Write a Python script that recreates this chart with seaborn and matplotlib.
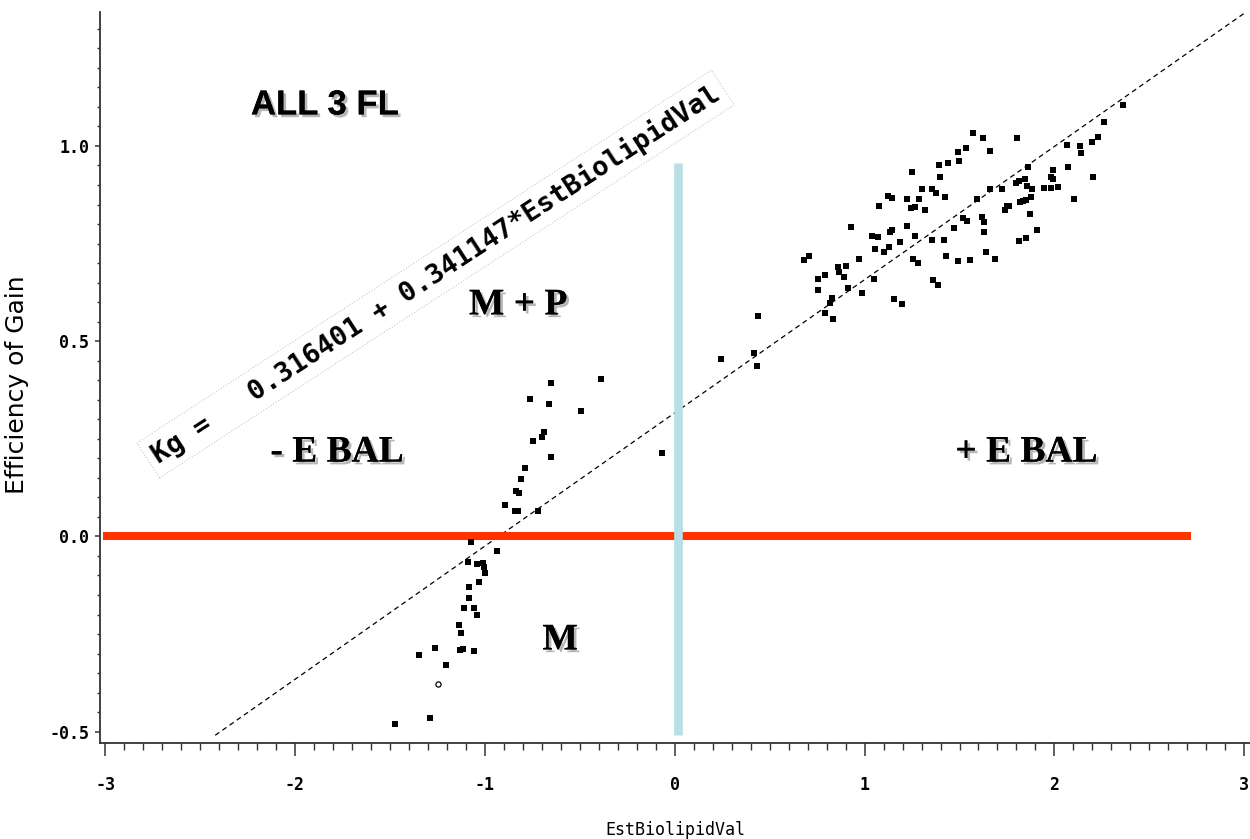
import numpy as np
import pandas as pd
import matplotlib
matplotlib.use("Agg")
import matplotlib.pyplot as plt
import matplotlib.patheffects as pe
from matplotlib.ticker import MultipleLocator, FormatStrFormatter
import seaborn as sns

# Observations: estimated biolipid value vs efficiency of gain
est_biolipid_neg = [
    -0.649, -0.387, -0.762, -0.663, -0.492, -0.745, -0.701, -0.689, -0.649, -0.067,
    -0.789, -0.812, -0.836, -0.820, -0.893, -0.841, -0.827, -0.719, -1.072, -0.938,
    -1.091, -1.039, -1.011, -1.002, -0.998, -1.030, -1.082, -1.082, -1.112, -1.055,
    -1.039, -1.138, -1.124, -1.261, -1.348, -1.130, -1.117, -1.056, -1.203, -1.291,
    -1.474,
]
eff_gain_neg = [
    0.394, 0.402, 0.352, 0.338, 0.322, 0.245, 0.255, 0.268, 0.204, 0.214,
    0.174, 0.148, 0.117, 0.110, 0.080, 0.066, 0.065, 0.066, -0.014, -0.037,
    -0.065, -0.071, -0.067, -0.078, -0.093, -0.116, -0.129, -0.157, -0.184, -0.184,
    -0.201, -0.227, -0.247, -0.285, -0.304, -0.291, -0.287, -0.294, -0.329, -0.464,
    -0.481,
]
est_biolipid_pos = [
    0.243, 0.439, 0.418, 0.435, 0.680, 0.707, 0.754, 0.754, 0.794, 0.794,
    0.833, 0.817, 0.829, 0.859, 0.864, 0.904, 0.893, 0.913, 0.929, 0.969,
    0.986, 1.051, 1.039, 1.069, 1.056, 1.077, 1.123, 1.144, 1.103, 1.130,
    1.135, 1.147, 1.156, 1.196, 1.187, 1.226, 1.222, 1.249, 1.245, 1.266,
    1.263, 1.289, 1.301, 1.318, 1.254, 1.284, 1.354, 1.359, 1.385, 1.354,
    1.376, 1.397, 1.392, 1.438, 1.423, 1.418, 1.427, 1.471, 1.494, 1.494,
    1.497, 1.534, 1.572, 1.625, 1.659, 1.516, 1.537, 1.555, 1.593, 1.616,
    1.628, 1.628, 1.639, 1.686, 1.659, 1.726, 1.738, 1.751, 1.761, 1.805,
    1.796, 1.814, 1.843, 1.861, 1.857, 1.884, 1.878, 1.817, 1.835, 1.852,
    1.869, 1.814, 1.848, 1.910, 1.945, 1.983, 2.018, 1.983, 1.995, 1.995,
    2.071, 2.066, 2.105, 2.132, 2.141, 2.197, 2.228, 2.260, 2.202, 2.363,
]
eff_gain_pos = [
    0.454, 0.565, 0.469, 0.436, 0.708, 0.719, 0.659, 0.631, 0.670, 0.573,
    0.557, 0.598, 0.610, 0.691, 0.678, 0.693, 0.664, 0.636, 0.793, 0.710,
    0.624, 0.659, 0.769, 0.768, 0.735, 0.845, 0.872, 0.866, 0.729, 0.740,
    0.780, 0.785, 0.608, 0.595, 0.755, 0.795, 0.863, 0.934, 0.840, 0.843,
    0.769, 0.864, 0.889, 0.836, 0.710, 0.700, 0.759, 0.657, 0.644, 0.889,
    0.879, 0.920, 0.951, 0.956, 0.869, 0.759, 0.718, 0.789, 0.706, 0.985,
    0.962, 0.996, 1.034, 1.020, 0.987, 0.815, 0.809, 0.708, 0.863, 0.819,
    0.804, 0.780, 0.729, 0.711, 0.889, 0.889, 0.836, 0.845, 0.846, 1.020,
    0.904, 0.910, 0.915, 0.947, 0.898, 0.889, 0.870, 0.857, 0.859, 0.862,
    0.826, 0.757, 0.765, 0.785, 0.892, 0.892, 0.896, 0.920, 0.939, 0.915,
    0.947, 1.003, 0.863, 1.000, 0.983, 1.011, 1.024, 1.061, 0.921, 1.105,
]
# one observation plotted with an open symbol
open_x = [-1.247]
open_y = [-0.378]

# Fitted regression: Kg = intercept + slope * EstBiolipidVal
intercept = 0.316401
slope = 0.341147
fit_x = [-2.42, 3.0]

x_ticks = [-3, -2, -1, 0, 1, 2, 3]
y_ticks = [-0.5, 0.0, 0.5, 1.0]

sns.set_theme(style="white")
plt.rcParams["axes.unicode_minus"] = False
plt.rcParams["font.family"] = ["DejaVu Sans Mono", "DejaVu Sans"]

df = pd.DataFrame({
    "EstBiolipidVal": est_biolipid_neg + est_biolipid_pos,
    "Efficiency of Gain": eff_gain_neg + eff_gain_pos,
})
fit = pd.DataFrame({"x": fit_x})
fit["y"] = intercept + slope * fit["x"]

fig = plt.figure(figsize=(12.5, 8.39), dpi=100)
ax = fig.add_axes([0.08, 0.1144, 0.92, 0.8713])

# reference lines: zero gain (red) and zero energy balance (light blue)
ax.hlines(0.0, -3.01, 2.72, color="#FF3300", lw=5.8, zorder=3)
sns.lineplot(data=fit, x="x", y="y", ax=ax, color="black", lw=0.9,
             dashes=False, linestyle=(0, (4, 3)), zorder=2)
ax.vlines(0.016, -0.508, 0.956, color="#B8DFE3", lw=6.2, zorder=4)

sns.scatterplot(data=df, x="EstBiolipidVal", y="Efficiency of Gain", ax=ax,
                marker="s", s=16, color="black", linewidth=0, zorder=5)
sns.scatterplot(x=open_x, y=open_y, ax=ax, marker="o", s=14,
                facecolor="white", edgecolor="black", linewidth=0.9, zorder=5)

ax.set_xlim(-3.027, 3.03)
ax.set_ylim(-0.529, 1.343)
for side in ("top", "right"):
    ax.spines[side].set_visible(False)
for side in ("left", "bottom"):
    ax.spines[side].set_color("#333333")
    ax.spines[side].set_linewidth(1.3)

ax.set_xticks(x_ticks)
ax.set_yticks(y_ticks)
ax.xaxis.set_minor_locator(MultipleLocator(0.1))
ax.yaxis.set_minor_locator(MultipleLocator(0.05))
ax.yaxis.set_major_formatter(FormatStrFormatter("%.1f"))
ax.tick_params(axis="x", which="major", direction="out", length=9.5, width=1.1,
               color="#333333", pad=14, labelsize=12, bottom=True)
ax.tick_params(axis="x", which="minor", direction="out", length=5, width=1.0,
               color="#333333", bottom=True)
ax.tick_params(axis="y", which="major", direction="out", length=3.8, width=1.1,
               color="#333333", pad=4, labelsize=12, left=True)
ax.tick_params(axis="y", which="minor", direction="out", length=2.3, width=1.0,
               color="#333333", left=True)
for lab in ax.get_xticklabels() + ax.get_yticklabels():
    lab.set_fontweight("bold")
    lab.set_color("black")

ax.set_xlabel("EstBiolipidVal", fontsize=12, labelpad=20, color="black")
ax.set_ylabel("Efficiency of Gain", fontsize=18, color="black",
              family=["DejaVu Sans"])
ax.yaxis.set_label_coords(-0.062, 0.49)

shadow = [pe.withSimplePatchShadow(offset=(2, -2), shadow_rgbFace="#888888", alpha=0.6),
          pe.Normal()]
ax.text(-1.842, 1.105, "ALL 3 FL", ha="center", va="center", fontsize=25,
        fontweight="bold", family=["Liberation Sans"], color="black",
        path_effects=shadow, zorder=6)
for tx, ty, label in [(-0.824, 0.593, "M + P"), (-1.779, 0.216, "- E BAL"),
                      (1.852, 0.216, "+ E BAL"), (-0.603, -0.265, "M")]:
    ax.text(tx, ty, label, ha="center", va="center", fontsize=27,
            fontweight="bold", family=["Liberation Serif"], color="black",
            path_effects=shadow, zorder=6)

ax.text(-1.26, 0.672, f"Kg =   {intercept:.6f} + {slope:.6f}*EstBiolipidVal",
        ha="center", va="center", rotation=33, rotation_mode="anchor",
        fontsize=19.5, fontweight="bold", family=["DejaVu Sans Mono"], color="black",
        bbox=dict(boxstyle="square,pad=0.25", fc="white", ec="#c8c8c8", lw=0.8,
                  ls=":"), zorder=6)

fig.savefig("out.png", dpi=100)
